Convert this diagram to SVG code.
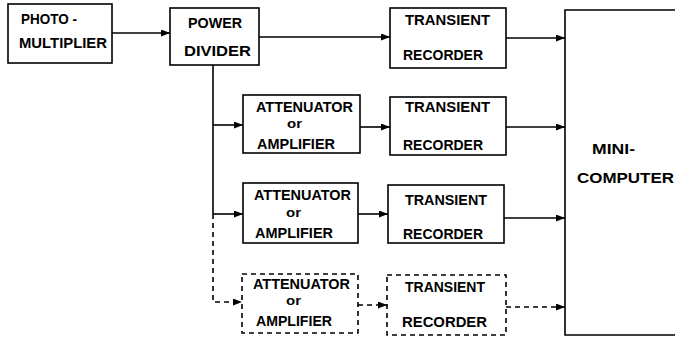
<svg xmlns="http://www.w3.org/2000/svg" width="675" height="339" viewBox="0 0 675 339">
<defs>
<marker id="ah" markerWidth="9" markerHeight="7" refX="9" refY="3.5" orient="auto" markerUnits="userSpaceOnUse">
<path d="M0,0 L9,3.5 L0,7 z" fill="#000"/>
</marker>
<style>
.box{fill:#fff;stroke:#000;stroke-width:1.6}
.dbox{fill:#fff;stroke:#000;stroke-width:1.6;stroke-dasharray:5 4}
.ln{fill:none;stroke:#000;stroke-width:1.6}
.dl{fill:none;stroke:#000;stroke-width:1.6;stroke-dasharray:5 4}
text{font-family:"Liberation Sans",Arial,sans-serif;font-weight:bold;font-size:15px;fill:#000}
.sm{font-size:12px}
</style>
</defs>
<rect width="675" height="339" fill="#fff"/>
<g id="connectors">
<line class="ln" x1="112" y1="33" x2="170" y2="33" marker-end="url(#ah)"/>
<line class="ln" x1="259" y1="37" x2="390" y2="37" marker-end="url(#ah)"/>
<line class="ln" x1="506" y1="38" x2="565" y2="38" marker-end="url(#ah)"/>
<line class="ln" x1="213" y1="65" x2="213" y2="214"/>
<line class="ln" x1="213" y1="125" x2="243" y2="125" marker-end="url(#ah)"/>
<line class="ln" x1="213" y1="214" x2="243" y2="214" marker-end="url(#ah)"/>
<line class="ln" x1="360" y1="127" x2="390" y2="127" marker-end="url(#ah)"/>
<line class="ln" x1="506" y1="127" x2="565" y2="127" marker-end="url(#ah)"/>
<line class="ln" x1="358" y1="214" x2="388" y2="214" marker-end="url(#ah)"/>
<line class="ln" x1="504" y1="218" x2="565" y2="218" marker-end="url(#ah)"/>
<path class="dl" d="M213,214 V302 H242" marker-end="url(#ah)"/>
<line class="dl" x1="358" y1="305" x2="387" y2="305" marker-end="url(#ah)"/>
<line class="dl" x1="506" y1="307" x2="565" y2="307" marker-end="url(#ah)"/>
</g>
<g id="photomultiplier">
<rect class="box" x="8" y="4" width="104" height="59"/>
<text x="21" y="24" textLength="56" lengthAdjust="spacingAndGlyphs">PHOTO -</text>
<text x="19" y="48" textLength="88" lengthAdjust="spacingAndGlyphs">MULTIPLIER</text>
</g>
<g id="power-divider">
<rect class="box" x="170" y="8" width="89" height="57"/>
<text x="188" y="28" textLength="54" lengthAdjust="spacingAndGlyphs">POWER</text>
<text x="184" y="56" textLength="67" lengthAdjust="spacingAndGlyphs">DIVIDER</text>
</g>
<g id="transient-recorder-1">
<rect class="box" x="390" y="8" width="116" height="60"/>
<text x="405" y="25" textLength="85" lengthAdjust="spacingAndGlyphs">TRANSIENT</text>
<text x="403" y="60" textLength="80" lengthAdjust="spacingAndGlyphs">RECORDER</text>
</g>
<g id="attenuator-1">
<rect class="box" x="243" y="95" width="117" height="58"/>
<text x="256" y="112" textLength="97" lengthAdjust="spacingAndGlyphs">ATTENUATOR</text>
<text class="sm" x="287" y="128" textLength="15" lengthAdjust="spacingAndGlyphs">or</text>
<text x="257" y="149" textLength="78" lengthAdjust="spacingAndGlyphs">AMPLIFIER</text>
</g>
<g id="transient-recorder-2">
<rect class="box" x="390" y="97" width="116" height="58"/>
<text x="405" y="112" textLength="85" lengthAdjust="spacingAndGlyphs">TRANSIENT</text>
<text x="403" y="150" textLength="80" lengthAdjust="spacingAndGlyphs">RECORDER</text>
</g>
<g id="attenuator-2">
<rect class="box" x="243" y="183" width="115" height="60"/>
<text x="254" y="200" textLength="97" lengthAdjust="spacingAndGlyphs">ATTENUATOR</text>
<text class="sm" x="286" y="217" textLength="15" lengthAdjust="spacingAndGlyphs">or</text>
<text x="255" y="238" textLength="78" lengthAdjust="spacingAndGlyphs">AMPLIFIER</text>
</g>
<g id="transient-recorder-3">
<rect class="box" x="388" y="185" width="116" height="58"/>
<text x="405" y="205" textLength="82" lengthAdjust="spacingAndGlyphs">TRANSIENT</text>
<text x="403" y="239" textLength="80" lengthAdjust="spacingAndGlyphs">RECORDER</text>
</g>
<g id="attenuator-3">
<rect class="dbox" x="242" y="274" width="116" height="59"/>
<text x="253" y="289" textLength="97" lengthAdjust="spacingAndGlyphs">ATTENUATOR</text>
<text class="sm" x="286" y="305" textLength="15" lengthAdjust="spacingAndGlyphs">or</text>
<text x="256" y="326" textLength="76" lengthAdjust="spacingAndGlyphs">AMPLIFIER</text>
</g>
<g id="transient-recorder-4">
<rect class="dbox" x="387" y="275" width="119" height="60"/>
<text x="405" y="292" textLength="80" lengthAdjust="spacingAndGlyphs">TRANSIENT</text>
<text x="402" y="327" textLength="85" lengthAdjust="spacingAndGlyphs">RECORDER</text>
</g>
<g id="minicomputer">
<path class="ln" d="M676,10 H565 V335 H676"/>
<text x="592" y="154" textLength="43" lengthAdjust="spacingAndGlyphs">MINI-</text>
<text x="577" y="183" textLength="97" lengthAdjust="spacingAndGlyphs">COMPUTER</text>
</g>
</svg>
